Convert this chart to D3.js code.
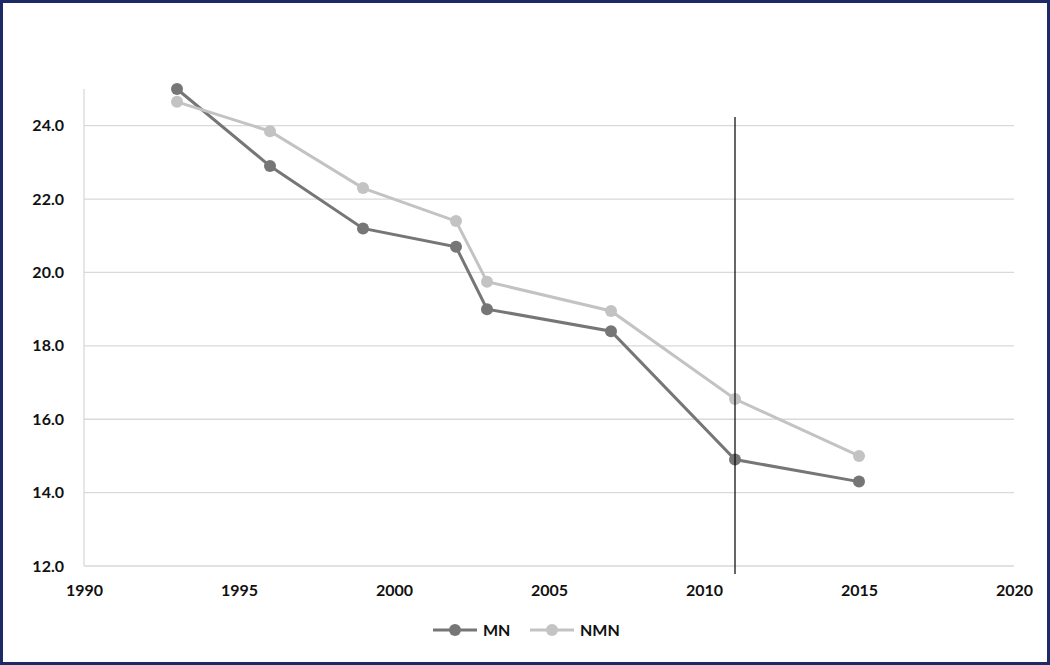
<!DOCTYPE html>
<html>
<head>
<meta charset="utf-8">
<script src="https://cdn.jsdelivr.net/npm/d3@7"></script>
<style>
  body { margin: 0; background: #fff; }
  svg { display: block; font-family: Lato, "Open Sans", sans-serif; }
</style>
</head>
<body>
<div class="chart"></div>
<script>
// data
var years = [1993, 1996, 1999, 2002, 2003, 2007, 2011, 2015];
var mnValues = [25.0, 22.9, 21.2, 20.7, 19.0, 18.4, 14.9, 14.3];
var nmnValues = [24.65, 23.85, 22.3, 21.4, 19.75, 18.95, 16.55, 15.0];
var yTicks = [12, 14, 16, 18, 20, 22, 24];
var xTicks = [1990, 1995, 2000, 2005, 2010, 2015, 2020];
var markerYear = 2011;

var series = [
  { name: "MN", values: mnValues, color: "#767676" },
  { name: "NMN", values: nmnValues, color: "#c3c3c3" }
];

var svgWidth = 1050, svgHeight = 665;
var margin = { top: 89, right: 36, bottom: 99, left: 84 };
var width = svgWidth - margin.left - margin.right;
var height = svgHeight - margin.top - margin.bottom;

var svg = d3.select(".chart")
  .append("svg")
  .attr("width", svgWidth)
  .attr("height", svgHeight);

// navy frame
svg.append("rect")
  .attr("x", 1.5).attr("y", 1.5)
  .attr("width", svgWidth - 3).attr("height", svgHeight - 3)
  .attr("fill", "none")
  .attr("stroke", "#1c2a66")
  .attr("stroke-width", 3);

var chartGroup = svg.append("g")
  .attr("transform", `translate(${margin.left}, ${margin.top})`);

var x = d3.scaleLinear().domain([1990, 2020]).range([0, width]);
var y = d3.scaleLinear().domain([12, 25]).range([height, 0]);

// gridlines
chartGroup.append("g")
  .selectAll("line")
  .data(yTicks)
  .enter()
  .append("line")
  .attr("x1", 0).attr("x2", width)
  .attr("y1", d => y(d)).attr("y2", d => y(d))
  .attr("stroke", "#d9d9d9")
  .attr("stroke-width", 1.3);

// left axis line
chartGroup.append("line")
  .attr("x1", 0).attr("x2", 0)
  .attr("y1", 0).attr("y2", height)
  .attr("stroke", "#d9d9d9")
  .attr("stroke-width", 1.3);

// axes (labels only)
var leftAxis = d3.axisLeft(y).tickValues(yTicks).tickFormat(d3.format(".1f")).tickSize(0).tickPadding(20);
var bottomAxis = d3.axisBottom(x).tickValues(xTicks).tickFormat(d3.format("d")).tickSize(0).tickPadding(19);

var yAxisG = chartGroup.append("g").call(leftAxis);
var xAxisG = chartGroup.append("g").attr("transform", `translate(0, ${height})`).call(bottomAxis);
[yAxisG, xAxisG].forEach(function (g) {
  g.select(".domain").remove();
  g.selectAll("text")
    .style("font-size", "16px")
    .style("font-weight", "bold")
    .style("font-family", "Lato, sans-serif")
    .attr("fill", "#111");
});

// lines and markers
var line = d3.line()
  .x((d, i) => x(years[i]))
  .y(d => y(d));

series.forEach(function (s) {
  chartGroup.append("path")
    .datum(s.values)
    .attr("d", line)
    .attr("fill", "none")
    .attr("stroke", s.color)
    .attr("stroke-width", 3);

  chartGroup.selectAll(null)
    .data(s.values)
    .enter()
    .append("circle")
    .attr("cx", (d, i) => x(years[i]))
    .attr("cy", d => y(d))
    .attr("r", 6)
    .attr("fill", s.color);
});

// vertical marker line
chartGroup.append("line")
  .attr("x1", x(markerYear)).attr("x2", x(markerYear))
  .attr("y1", 28).attr("y2", height + 8)
  .attr("stroke", "#000")
  .attr("stroke-width", 1.2);

// legend
var legend = svg.append("g").attr("transform", "translate(433, 630)");
var legendX = [0, 97];
series.forEach(function (s, i) {
  var g = legend.append("g").attr("transform", `translate(${legendX[i]}, 0)`);
  g.append("line")
    .attr("x1", 0).attr("x2", 44)
    .attr("y1", 0).attr("y2", 0)
    .attr("stroke", s.color)
    .attr("stroke-width", 3);
  g.append("circle")
    .attr("cx", 22).attr("cy", 0).attr("r", 6)
    .attr("fill", s.color);
  g.append("text")
    .attr("x", 50).attr("y", 0)
    .attr("dy", "0.35em")
    .style("font-size", "16px")
    .style("font-weight", "bold")
    .attr("fill", "#111")
    .text(s.name);
});
</script>
</body>
</html>
